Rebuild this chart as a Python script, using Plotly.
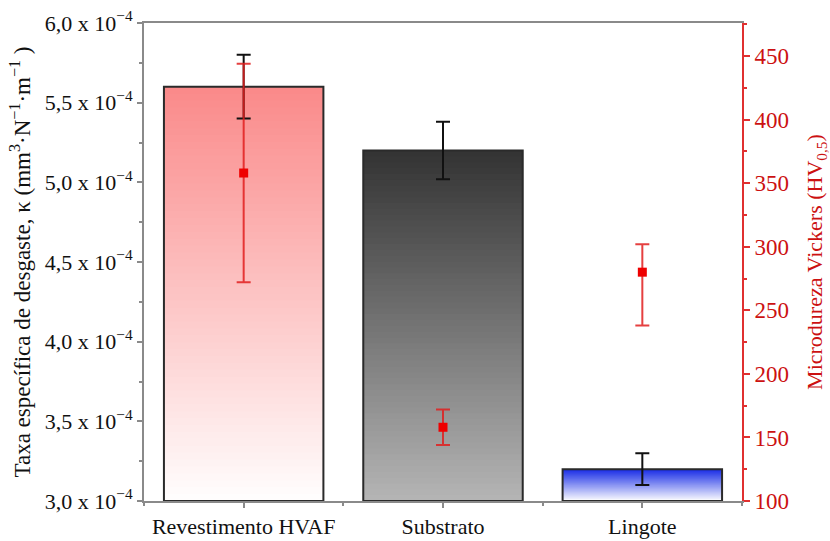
import plotly.graph_objects as go

# ---- data ----
categories = ["Revestimento HVAF", "Substrato", "Lingote"]
wear_rate = [5.6e-4, 5.2e-4, 3.2e-4]          # kappa (mm3 N-1 m-1)
wear_err = [0.2e-4, 0.18e-4, 0.1e-4]
hardness = [358, 158, 280]                     # HV0,5
hard_err_plus = [86, 14, 22]
hard_err_minus = [86, 14, 42]
left_ticks = [3.0e-4, 3.5e-4, 4.0e-4, 4.5e-4, 5.0e-4, 5.5e-4, 6.0e-4]
left_tick_text = ["3,0", "3,5", "4,0", "4,5", "5,0", "5,5", "6,0"]
right_ticks = [100, 150, 200, 250, 300, 350, 400, 450]

# bar gradient colours (top, bottom)
top_colors = [(250, 138, 138), (52, 52, 52), (25, 45, 230)]
bottom_colors = [(255, 255, 255), (182, 182, 182), (255, 255, 255)]

BASE = 3.0e-4
N = 60
xs = list(range(len(categories)))

fig = go.Figure()

# gradient: overlay progressively shorter bars, each coloured for its top
for k in range(N):
    frac = 1 - k / N  # height fraction of this layer
    heights = [(v - BASE) * frac for v in wear_rate]
    cols = []
    for tc, bc in zip(top_colors, bottom_colors):
        c = tuple(round(bc[j] + (tc[j] - bc[j]) * frac) for j in range(3))
        cols.append("rgb(%d,%d,%d)" % c)
    fig.add_trace(go.Bar(x=xs, y=heights, base=[BASE] * 3, width=0.8,
                         marker=dict(color=cols, line=dict(width=0)),
                         showlegend=False, hoverinfo="skip"))

# outline bars with black error bars
fig.add_trace(go.Bar(x=xs, y=[v - BASE for v in wear_rate], base=[BASE] * 3, width=0.8,
                     marker=dict(color="rgba(0,0,0,0)", line=dict(color="#2a2a2a", width=2)),
                     error_y=dict(type="data", array=wear_err, color="#111111",
                                  thickness=2, width=7),
                     showlegend=False))

# hardness on secondary axis
fig.add_trace(go.Scatter(x=xs, y=hardness, mode="markers", yaxis="y2",
                         marker=dict(symbol="square", size=9, color="#ee0000"),
                         error_y=dict(type="data", symmetric=False,
                                      array=hard_err_plus, arrayminus=hard_err_minus,
                                      color="rgba(225,30,30,0.85)", thickness=2, width=7),
                         showlegend=False))

serif = "Liberation Serif"

fig.update_layout(
    width=830, height=541,
    margin=dict(l=144, r=88, t=23, b=40),
    paper_bgcolor="white", plot_bgcolor="white",
    barmode="overlay",
    showlegend=False,
    font=dict(family=serif, size=21, color="#111111"),
    xaxis=dict(range=[-0.5, 2.5], tickmode="array", tickvals=xs, ticktext=categories,
               showline=True, linecolor="#8a8a8a", linewidth=2, mirror=True,
               ticks="outside", ticklen=5, tickcolor="#8a8a8a", tickwidth=2,
               minor=dict(tick0=0.5, dtick=1, ticks="outside", ticklen=3,
                          tickcolor="#8a8a8a", tickwidth=2),
               showgrid=False, zeroline=False, automargin=False,
               tickfont=dict(family=serif, size=22, color="#111111")),
    yaxis=dict(range=[BASE, 6.0e-4], tickmode="array", tickvals=left_ticks,
               ticktext=[t + " x 10<sup>−4</sup>" for t in left_tick_text],
               showline=True, linecolor="#8a8a8a", linewidth=2,
               ticks="outside", ticklen=5, tickcolor="#8a8a8a", tickwidth=2,
               minor=dict(tick0=3.25e-4, dtick=0.5e-4, ticks="outside", ticklen=3,
                          tickcolor="#8a8a8a", tickwidth=2),
               showgrid=False, zeroline=False,
               tickfont=dict(family=serif, size=22, color="#111111"),
               title=dict(text="Taxa específica de desgaste, κ (mm<sup>3</sup>·N<sup>−1</sup>·m<sup>−1</sup> )",
                          font=dict(family=serif, size=23, color="#111111"), standoff=8),
               automargin=False),
    yaxis2=dict(range=[100, 476], overlaying="y", side="right", tickmode="array",
                tickvals=right_ticks,
                showline=True, linecolor="#e03030", linewidth=2,
                ticks="outside", ticklen=6, tickcolor="#e03030", tickwidth=2,
                minor=dict(tick0=125, dtick=50, ticks="outside", ticklen=3,
                           tickcolor="#e03030", tickwidth=2),
                showgrid=False, zeroline=False,
                tickfont=dict(family=serif, size=23, color="#cc1111"),
                title=dict(text="Microdureza Vickers (HV<sub>0,5</sub>)",
                           font=dict(family=serif, size=22, color="#cc1111"), standoff=20),
                automargin=False),
)

fig.write_html("out.html")
